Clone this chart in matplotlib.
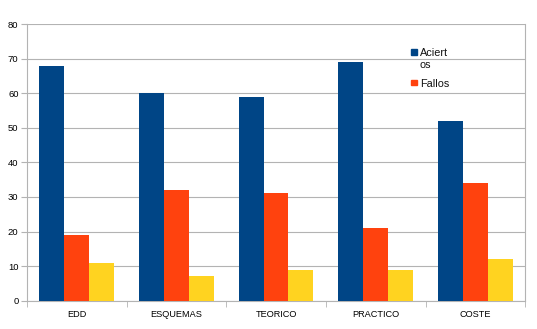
import matplotlib
matplotlib.use("Agg")
import matplotlib.pyplot as plt
from matplotlib.patches import Rectangle
import numpy as np

categories = ["EDD", "ESQUEMAS", "TEORICO", "PRACTICO", "COSTE"]
aciertos = [68, 60, 59, 69, 52]
fallos = [19, 32, 31, 21, 34]
blancos = [11, 7, 9, 9, 12]

BLUE = "#004586"
ORANGE = "#ff420e"
YELLOW = "#ffd320"
GRID = "#b3b3b3"

plt.rcParams["font.family"] = ["Liberation Sans", "DejaVu Sans"]

fig = plt.figure(figsize=(5.37, 3.29), dpi=100)
ax = fig.add_axes([0.050, 0.086, 0.928, 0.841])

x = np.arange(len(categories))
w = 0.25
ax.bar(x - w, aciertos, w, color=BLUE, zorder=3)
ax.bar(x, fallos, w, color=ORANGE, zorder=3)
ax.bar(x + w, blancos, w, color=YELLOW, zorder=3)

ax.set_xlim(-0.5, len(categories) - 0.5)
ax.set_ylim(0, 80)
ax.set_yticks(range(0, 81, 10))
ax.set_xticks(x)
ax.set_xticklabels(categories)
ax.set_xticks(np.arange(-0.5, len(categories)), minor=True)
ax.tick_params(axis="x", which="major", length=0, labelsize=6.6, pad=7)
ax.tick_params(axis="x", which="minor", length=4, color=GRID)
ax.tick_params(axis="y", length=4, color=GRID, labelsize=6.8, pad=2)
ax.grid(axis="y", color=GRID, lw=0.8, zorder=0)
for side in ("left", "bottom", "right"):
    ax.spines[side].set_color(GRID)
ax.spines["top"].set_visible(False)

# legend: only the first two series, label wrapped like the source sheet
# (square bottom, text top) in figure coords
legend_items = [("Aciert\nos", BLUE, 0.834, 0.853),
                ("Fallos", ORANGE, 0.741, 0.761)]
for label, color, sq_y, txt_top in legend_items:
    fig.patches.append(Rectangle((0.7654, sq_y), 0.0106, 0.0173,
                                 transform=fig.transFigure, color=color))
    fig.text(0.782, txt_top, label, fontsize=7.8, va="top", ha="left",
             linespacing=1.2, color="#111111")

fig.savefig("out.png", dpi=100)
